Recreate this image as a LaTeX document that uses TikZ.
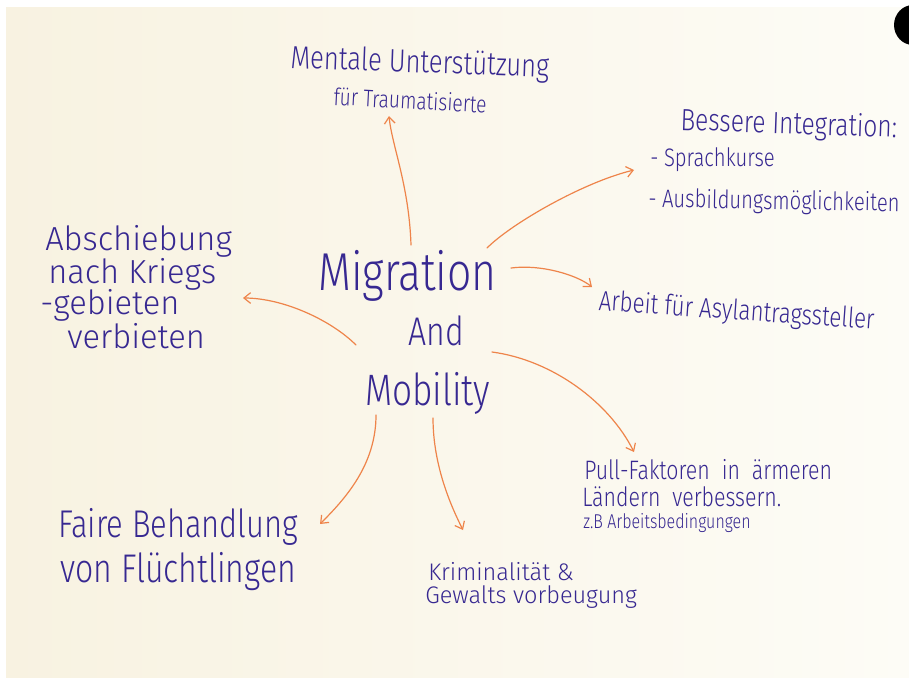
\documentclass[tikz,border=0pt]{standalone}
\usepackage{fontspec}
\setmainfont{Fira Sans Light}[FakeStretch=0.8]
\newfontfamily\widehand{Fira Sans Light}[FakeStretch=0.98]
\usepackage{xcolor}
\usetikzlibrary{
  arrows,
  arrows.meta,
  positioning,
  calc}
\definecolor{pen}{RGB}{55,40,145}
\definecolor{marker}{RGB}{238,132,74}
\definecolor{paperl}{RGB}{248,242,225}
\definecolor{paperr}{RGB}{253,252,246}
\tikzset{every picture/.style={font issue=\normalsize},
         font issue/.style={execute at begin picture={#1\selectfont}}
        }
\newcommand{\fs}[1]{\fontsize{#1}{#1}\selectfont}

\begin{document}
\begin{tikzpicture}[x=0.75pt, y=-0.75pt,
  hand/.style={text=pen, inner sep=0pt, anchor=base west},
  link/.style={-{Straight Barb[length=5pt,width=8pt]}, draw=marker, line width=0.9pt, line cap=round}]

\useasboundingbox (0,0) rectangle (909,682);

%paper
\fill[white] (0,0) rectangle (909,682);
\shade[left color=paperl, right color=paperr] (6,7) rectangle (909,677);
\fill[black] (913,25) ellipse [x radius=19, y radius=20];

%centre
\node[hand, font=\fs{40}] (mig) at (318,290) {Migration};
\node[hand, font=\fs{30}] (and) at (408,345) {And};
\node[hand, font=\fs{33}] (mob) at (365,405) {Mobility};

%branches
\node[hand, font=\fs{24}, rotate=-2] (mental) at (290,68) {Mentale Unterstützung};
\node[hand, font=\fs{18}, rotate=-3] (trauma) at (333,105) {für Traumatisierte};

\node[hand, font=\fs{23}, rotate=-2] (integr) at (680,130) {Bessere Integration:};
\node[hand, font=\fs{19}] (sprach) at (650,166) {- Sprachkurse};
\node[hand, font=\fs{19}, rotate=-1] (ausb) at (648,207) {- Ausbildungsmöglichkeiten};

\node[hand, font=\fs{21}, rotate=-4] (arbeit) at (598,310) {Arbeit für Asylantragssteller};

\node[hand, font=\widehand\fs{25}] (absch1) at (45,250) {Abschiebung};
\node[hand, font=\widehand\fs{25}] (absch2) at (48,283) {nach Kriegs};
\node[hand, font=\widehand\fs{25}] (absch3) at (40,314) {-gebieten};
\node[hand, font=\widehand\fs{25}] (absch4) at (67,348) {verbieten};

\node[hand, font=\fs{20}] (pull1) at (584,479) {Pull-Faktoren\ \ in\ \ ärmeren};
\node[hand, font=\fs{20}] (pull2) at (582,506) {Ländern\ \ verbessern.};
\node[hand, font=\fs{15}] (pull3) at (583,528) {z.B Arbeitsbedingungen};

\node[hand, font=\fs{29}] (faire1) at (58,537) {Faire Behandlung};
\node[hand, font=\fs{30}] (faire2) at (60,582) {von Flüchtlingen};

\node[hand, font=\widehand\fs{18}] (krim1) at (428,580) {Kriminalität \&};
\node[hand, font=\widehand\fs{18}] (krim2) at (425,603) {Gewalts vorbeugung};

%arrow ends
\coordinate (s1) at (411,245);
\coordinate (t1) at (389,116);
\coordinate (s2) at (487,248);
\coordinate (t2) at (634,170);
\coordinate (s3) at (511,268);
\coordinate (t3) at (592,287);
\coordinate (s4) at (356,345);
\coordinate (t4) at (243,298);
\coordinate (s5) at (492,352);
\coordinate (t5) at (634,452);
\coordinate (s6) at (376,415);
\coordinate (t6) at (320,524);
\coordinate (s7) at (433,418);
\coordinate (t7) at (463,530);

\draw[link] (s1) .. controls +(-2,-60) and +(3,30) .. (t1);
\draw[link] (s2) .. controls +(25,-25) and +(-50,12) .. (t2);
\draw[link] (s3) .. controls +(30,-4) and +(-15,-12) .. (t3);
\draw[link] (s4) .. controls +(-25,-25) and +(40,0) .. (t4);
\draw[link] (s5) .. controls +(60,8) and +(-25,-50) .. (t5);
\draw[link] (s6) .. controls +(0,50) and +(25,-25) .. (t6);
\draw[link] (s7) .. controls +(0,50) and +(-10,-20) .. (t7);

\end{tikzpicture}
\end{document}
